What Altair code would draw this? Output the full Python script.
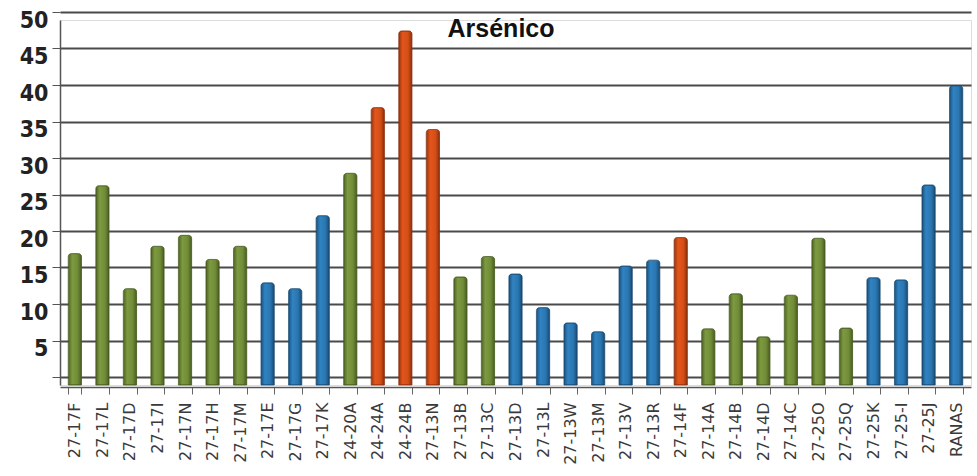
import altair as alt
import pandas as pd

# Sampling points and arsenic concentration per point
sites = ["27-17F", "27-17L", "27-17D", "27-17I", "27-17N", "27-17H", "27-17M",
         "27-17E", "27-17G", "27-17K", "24-20A", "24-24A", "24-24B", "27-13N",
         "27-13B", "27-13C", "27-13D", "27-13L", "27-13W", "27-13M", "27-13V",
         "27-13R", "27-14F", "27-14A", "27-14B", "27-14D", "27-14C", "27-25O",
         "27-25Q", "27-25K", "27-25-I", "27-25J", "RANAS"]
arsenic = [18.0, 27.3, 13.2, 19.0, 20.5, 17.2, 19.0,
           14.0, 13.2, 23.2, 29.0, 38.0, 48.5, 35.0,
           14.8, 17.6, 15.2, 10.6, 8.5, 7.3, 16.3,
           17.1, 20.2, 7.7, 12.5, 6.6, 12.3, 20.1,
           7.8, 14.7, 14.4, 27.4, 41.0]
groups = ["g", "g", "g", "g", "g", "g", "g",
          "b", "b", "b", "g", "o", "o", "o",
          "g", "g", "b", "b", "b", "b", "b",
          "b", "o", "g", "g", "g", "g", "g",
          "g", "b", "b", "b", "b"]

# cylinder shading per group: dark edge, light body, dark edge
shades = {
    "g": ["#4E6324", "#7D9A40", "#718C38", "#485C20"],
    "b": ["#1C527E", "#3083C2", "#2A76B0", "#194A72"],
    "o": ["#963511", "#E3561B", "#D44E17", "#8A300F"],
}

df = pd.DataFrame({"site": sites, "value": arsenic, "group": groups})

x_enc = alt.X("site:N", sort=sites,
              scale=alt.Scale(paddingInner=0.52, paddingOuter=0.3),
              axis=alt.Axis(title=None, labelAngle=-90, labelFontSize=16,
                            labelFont="DejaVu Sans", labelColor="#3a3a3a",
                            labelPadding=8, tickBand="extent", tickSize=7,
                            tickColor="#666666", domainColor="#555555",
                            domainWidth=1.5, grid=False, offset=2))
y_enc = alt.Y("value:Q",
              scale=alt.Scale(domain=[0, 50], nice=False),
              axis=alt.Axis(title=None,
                            values=[0, 5, 10, 15, 20, 25, 30, 35, 40, 45, 50],
                            labelExpr="datum.value == 0 ? '' : datum.label",
                            labelFontSize=23, labelFontWeight="bold",
                            labelFont="DejaVu Sans Condensed", labelColor="#222222",
                            labelPadding=4, tickSize=8, tickColor="#555555",
                            tickOffset=-8, labelOffset=8,
                            domainColor="#555555", domainWidth=1.5,
                            grid=True, gridColor="#4a4a4a", gridWidth=2.2))


def cylinder(key):
    c = shades[key]
    fill = alt.Gradient(
        gradient="linear", x1=0, x2=1, y1=0, y2=0,
        stops=[alt.GradientStop(color=c[0], offset=0),
               alt.GradientStop(color=c[1], offset=0.3),
               alt.GradientStop(color=c[2], offset=0.7),
               alt.GradientStop(color=c[3], offset=1)])
    return alt.Chart(df).transform_filter(
        alt.datum.group == key
    ).mark_bar(color=fill, stroke=c[3], strokeWidth=0.8,
               cornerRadiusTopLeft=3, cornerRadiusTopRight=3).encode(
        x=x_enc, y=y_enc)


layers = [cylinder(k) for k in ["g", "b", "o"]]

title = alt.Chart(pd.DataFrame({"t": ["Arsénico"]})).mark_text(
    font="Liberation Sans", fontSize=25, fontWeight="bold", color="#111111",
    align="center", baseline="alphabetic"
).encode(text="t:N", x=alt.value(441), y=alt.value(17))

chart = alt.layer(*layers, title).properties(
    width=911, height=365,
    autosize=alt.AutoSizeParams(type="none"),
    padding={"left": 60, "top": 20, "right": 6, "bottom": 91},
).configure_view(stroke=None).configure(background="white")

chart.save("out.html", embed_options={"renderer": "svg", "actions": False})
